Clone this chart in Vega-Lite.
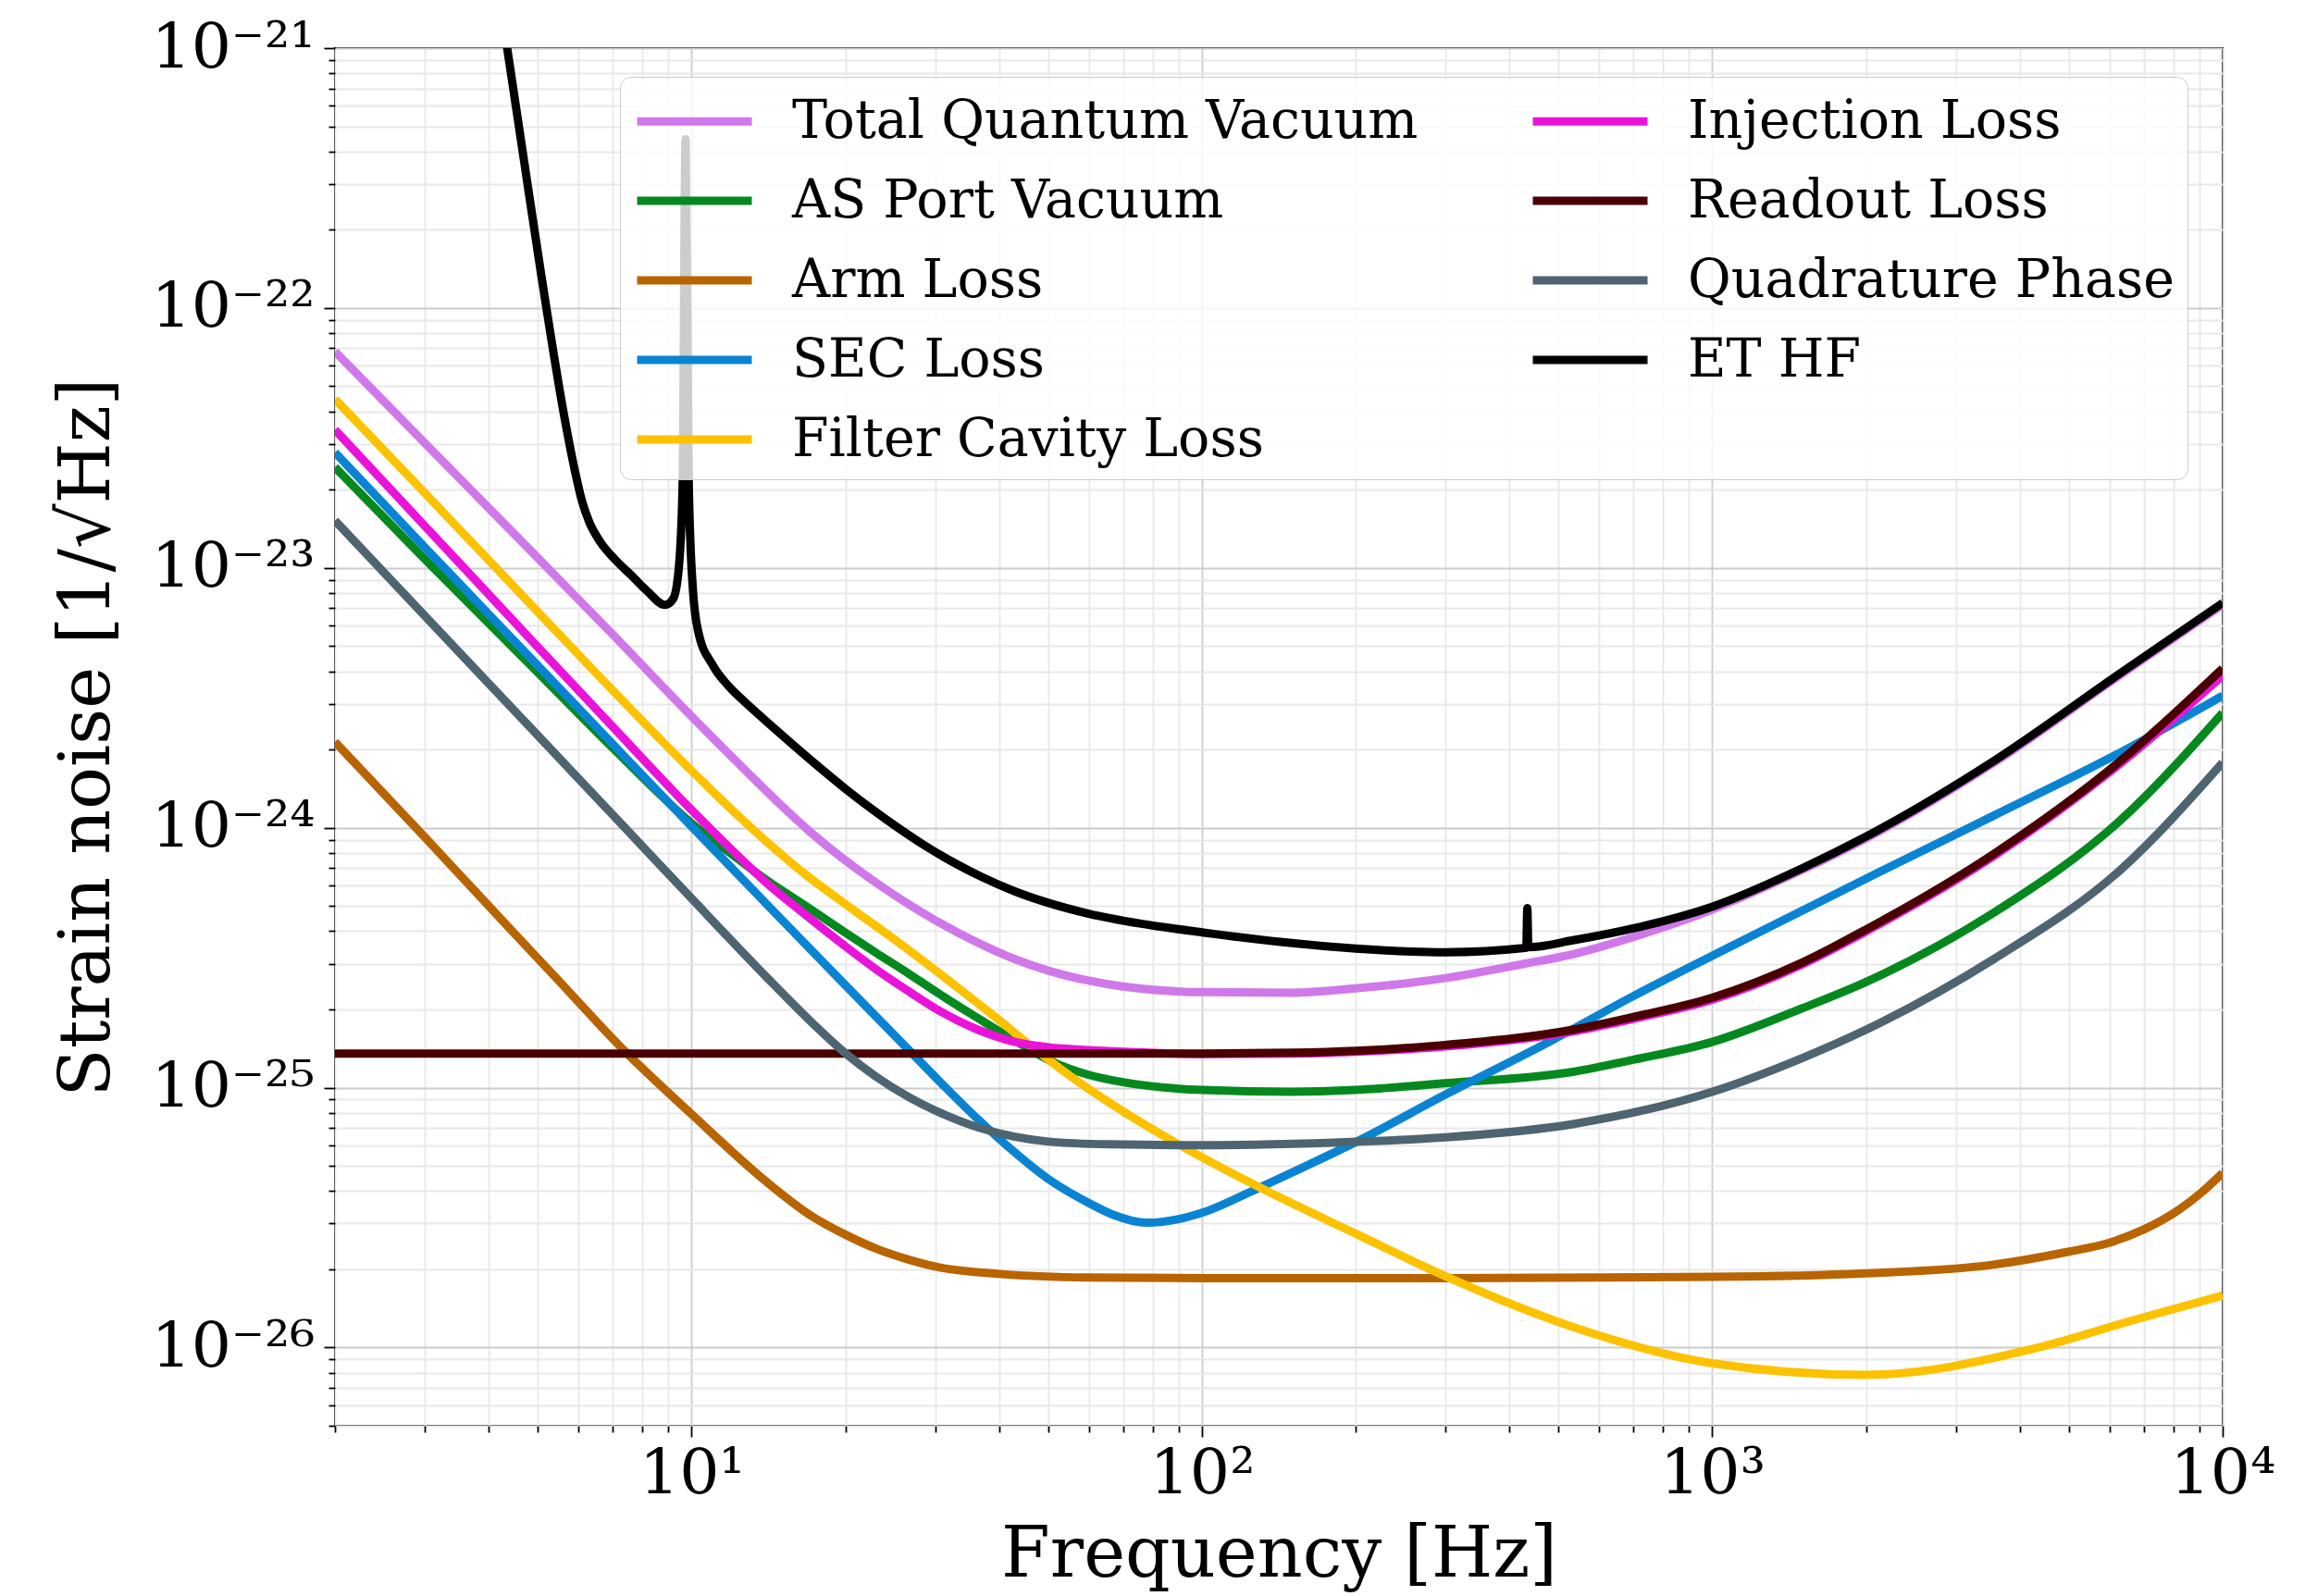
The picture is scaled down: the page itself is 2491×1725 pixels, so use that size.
{
  "$schema": "https://vega.github.io/schema/vega-lite/v6.json",
  "width": 2040,
  "height": 1489,
  "autosize": {"type": "none"},
  "padding": {"left": 362, "top": 52, "right": 89, "bottom": 184},
  "background": "white",
  "config": {
    "view": {"stroke": "black", "strokeWidth": 2},
    "font": "DejaVu Serif"
  },
  "data": {
    "values": [
      {"s": "Total Quantum Vacuum", "f": 2, "h": 6.8e-23},
      {"s": "Total Quantum Vacuum", "f": 3, "h": 3.02e-23},
      {"s": "Total Quantum Vacuum", "f": 5, "h": 1.09e-23},
      {"s": "Total Quantum Vacuum", "f": 7, "h": 5.55e-24},
      {"s": "Total Quantum Vacuum", "f": 10, "h": 2.68e-24},
      {"s": "Total Quantum Vacuum", "f": 13, "h": 1.6e-24},
      {"s": "Total Quantum Vacuum", "f": 15, "h": 1.216e-24},
      {"s": "Total Quantum Vacuum", "f": 17, "h": 9.71e-25},
      {"s": "Total Quantum Vacuum", "f": 20, "h": 7.49e-25},
      {"s": "Total Quantum Vacuum", "f": 23, "h": 6.14e-25},
      {"s": "Total Quantum Vacuum", "f": 26.6, "h": 5.08e-25},
      {"s": "Total Quantum Vacuum", "f": 30, "h": 4.41e-25},
      {"s": "Total Quantum Vacuum", "f": 36.4, "h": 3.61e-25},
      {"s": "Total Quantum Vacuum", "f": 43, "h": 3.12e-25},
      {"s": "Total Quantum Vacuum", "f": 50, "h": 2.82e-25},
      {"s": "Total Quantum Vacuum", "f": 60, "h": 2.58e-25},
      {"s": "Total Quantum Vacuum", "f": 70, "h": 2.45e-25},
      {"s": "Total Quantum Vacuum", "f": 85, "h": 2.36e-25},
      {"s": "Total Quantum Vacuum", "f": 100, "h": 2.33e-25},
      {"s": "Total Quantum Vacuum", "f": 150, "h": 2.32e-25},
      {"s": "Total Quantum Vacuum", "f": 200, "h": 2.41e-25},
      {"s": "Total Quantum Vacuum", "f": 300, "h": 2.64e-25},
      {"s": "Total Quantum Vacuum", "f": 430, "h": 3.0e-25},
      {"s": "Total Quantum Vacuum", "f": 533, "h": 3.26e-25},
      {"s": "Total Quantum Vacuum", "f": 700, "h": 3.8e-25},
      {"s": "Total Quantum Vacuum", "f": 1000, "h": 4.85e-25},
      {"s": "Total Quantum Vacuum", "f": 1500, "h": 6.88e-25},
      {"s": "Total Quantum Vacuum", "f": 2000, "h": 9.1e-25},
      {"s": "Total Quantum Vacuum", "f": 3566, "h": 1.78e-24},
      {"s": "Total Quantum Vacuum", "f": 6310, "h": 3.88e-24},
      {"s": "Total Quantum Vacuum", "f": 10000, "h": 7.22e-24},

      {"s": "AS Port Vacuum", "f": 2, "h": 2.44e-23},
      {"s": "AS Port Vacuum", "f": 3, "h": 1.08e-23},
      {"s": "AS Port Vacuum", "f": 5, "h": 3.95e-24},
      {"s": "AS Port Vacuum", "f": 7, "h": 2.03e-24},
      {"s": "AS Port Vacuum", "f": 10, "h": 1.04e-24},
      {"s": "AS Port Vacuum", "f": 12, "h": 7.9e-25},
      {"s": "AS Port Vacuum", "f": 14, "h": 6.3e-25},
      {"s": "AS Port Vacuum", "f": 17, "h": 4.9e-25},
      {"s": "AS Port Vacuum", "f": 20, "h": 3.95e-25},
      {"s": "AS Port Vacuum", "f": 23, "h": 3.3e-25},
      {"s": "AS Port Vacuum", "f": 26.6, "h": 2.75e-25},
      {"s": "AS Port Vacuum", "f": 30, "h": 2.35e-25},
      {"s": "AS Port Vacuum", "f": 36.4, "h": 1.85e-25},
      {"s": "AS Port Vacuum", "f": 40, "h": 1.65e-25},
      {"s": "AS Port Vacuum", "f": 45, "h": 1.44e-25},
      {"s": "AS Port Vacuum", "f": 50, "h": 1.28e-25},
      {"s": "AS Port Vacuum", "f": 60, "h": 1.12e-25},
      {"s": "AS Port Vacuum", "f": 70, "h": 1.05e-25},
      {"s": "AS Port Vacuum", "f": 100, "h": 9.8e-26},
      {"s": "AS Port Vacuum", "f": 150, "h": 9.65e-26},
      {"s": "AS Port Vacuum", "f": 200, "h": 9.8e-26},
      {"s": "AS Port Vacuum", "f": 300, "h": 1.04e-25},
      {"s": "AS Port Vacuum", "f": 533, "h": 1.15e-25},
      {"s": "AS Port Vacuum", "f": 700, "h": 1.28e-25},
      {"s": "AS Port Vacuum", "f": 1000, "h": 1.5e-25},
      {"s": "AS Port Vacuum", "f": 1500, "h": 2.02e-25},
      {"s": "AS Port Vacuum", "f": 2000, "h": 2.55e-25},
      {"s": "AS Port Vacuum", "f": 3566, "h": 4.72e-25},
      {"s": "AS Port Vacuum", "f": 6310, "h": 1.07e-24},
      {"s": "AS Port Vacuum", "f": 10000, "h": 2.77e-24},

      {"s": "Arm Loss", "f": 2, "h": 2.14e-24},
      {"s": "Arm Loss", "f": 3, "h": 9.2e-25},
      {"s": "Arm Loss", "f": 4.3, "h": 4.3e-25},
      {"s": "Arm Loss", "f": 5.4, "h": 2.67e-25},
      {"s": "Arm Loss", "f": 7.4, "h": 1.38e-25},
      {"s": "Arm Loss", "f": 10, "h": 7.9e-26},
      {"s": "Arm Loss", "f": 14, "h": 4.35e-26},
      {"s": "Arm Loss", "f": 17, "h": 3.25e-26},
      {"s": "Arm Loss", "f": 20, "h": 2.72e-26},
      {"s": "Arm Loss", "f": 23, "h": 2.4e-26},
      {"s": "Arm Loss", "f": 26.6, "h": 2.18e-26},
      {"s": "Arm Loss", "f": 30, "h": 2.05e-26},
      {"s": "Arm Loss", "f": 40, "h": 1.92e-26},
      {"s": "Arm Loss", "f": 60, "h": 1.86e-26},
      {"s": "Arm Loss", "f": 100, "h": 1.85e-26},
      {"s": "Arm Loss", "f": 300, "h": 1.85e-26},
      {"s": "Arm Loss", "f": 1000, "h": 1.87e-26},
      {"s": "Arm Loss", "f": 2000, "h": 1.93e-26},
      {"s": "Arm Loss", "f": 3530, "h": 2.08e-26},
      {"s": "Arm Loss", "f": 5000, "h": 2.34e-26},
      {"s": "Arm Loss", "f": 5990, "h": 2.53e-26},
      {"s": "Arm Loss", "f": 7000, "h": 2.844e-26},
      {"s": "Arm Loss", "f": 8200, "h": 3.385e-26},
      {"s": "Arm Loss", "f": 9100, "h": 3.957e-26},
      {"s": "Arm Loss", "f": 10000, "h": 4.7e-26},

      {"s": "SEC Loss", "f": 2, "h": 2.78e-23},
      {"s": "SEC Loss", "f": 3, "h": 1.2e-23},
      {"s": "SEC Loss", "f": 5, "h": 4.2e-24},
      {"s": "SEC Loss", "f": 7, "h": 2.1e-24},
      {"s": "SEC Loss", "f": 10, "h": 1.01e-24},
      {"s": "SEC Loss", "f": 14, "h": 5.1e-25},
      {"s": "SEC Loss", "f": 20, "h": 2.48e-25},
      {"s": "SEC Loss", "f": 26.6, "h": 1.4e-25},
      {"s": "SEC Loss", "f": 31, "h": 1.03e-25},
      {"s": "SEC Loss", "f": 36.4, "h": 7.55e-26},
      {"s": "SEC Loss", "f": 41.6, "h": 5.95e-26},
      {"s": "SEC Loss", "f": 50, "h": 4.45e-26},
      {"s": "SEC Loss", "f": 60, "h": 3.6e-26},
      {"s": "SEC Loss", "f": 67, "h": 3.24e-26},
      {"s": "SEC Loss", "f": 78, "h": 3.02e-26},
      {"s": "SEC Loss", "f": 90, "h": 3.12e-26},
      {"s": "SEC Loss", "f": 100, "h": 3.3e-26},
      {"s": "SEC Loss", "f": 127, "h": 4.05e-26},
      {"s": "SEC Loss", "f": 160, "h": 5.0e-26},
      {"s": "SEC Loss", "f": 201, "h": 6.2e-26},
      {"s": "SEC Loss", "f": 300, "h": 9.4e-26},
      {"s": "SEC Loss", "f": 485, "h": 1.52e-25},
      {"s": "SEC Loss", "f": 700, "h": 2.25e-25},
      {"s": "SEC Loss", "f": 1000, "h": 3.22e-25},
      {"s": "SEC Loss", "f": 2000, "h": 6.37e-25},
      {"s": "SEC Loss", "f": 3566, "h": 1.115e-24},
      {"s": "SEC Loss", "f": 6310, "h": 1.95e-24},
      {"s": "SEC Loss", "f": 10000, "h": 3.22e-24},

      {"s": "Filter Cavity Loss", "f": 2, "h": 4.46e-23},
      {"s": "Filter Cavity Loss", "f": 3, "h": 1.94e-23},
      {"s": "Filter Cavity Loss", "f": 5, "h": 6.76e-24},
      {"s": "Filter Cavity Loss", "f": 7, "h": 3.38e-24},
      {"s": "Filter Cavity Loss", "f": 10, "h": 1.656e-24},
      {"s": "Filter Cavity Loss", "f": 12, "h": 1.171e-24},
      {"s": "Filter Cavity Loss", "f": 14, "h": 8.87e-25},
      {"s": "Filter Cavity Loss", "f": 17, "h": 6.44e-25},
      {"s": "Filter Cavity Loss", "f": 20, "h": 5.09e-25},
      {"s": "Filter Cavity Loss", "f": 26.6, "h": 3.39e-25},
      {"s": "Filter Cavity Loss", "f": 31, "h": 2.695e-25},
      {"s": "Filter Cavity Loss", "f": 36.4, "h": 2.11e-25},
      {"s": "Filter Cavity Loss", "f": 40, "h": 1.822e-25},
      {"s": "Filter Cavity Loss", "f": 47, "h": 1.408e-25},
      {"s": "Filter Cavity Loss", "f": 53, "h": 1.176e-25},
      {"s": "Filter Cavity Loss", "f": 60, "h": 9.88e-26},
      {"s": "Filter Cavity Loss", "f": 70, "h": 8.11e-26},
      {"s": "Filter Cavity Loss", "f": 88, "h": 6.2e-26},
      {"s": "Filter Cavity Loss", "f": 127, "h": 4.22e-26},
      {"s": "Filter Cavity Loss", "f": 201, "h": 2.73e-26},
      {"s": "Filter Cavity Loss", "f": 300, "h": 1.88e-26},
      {"s": "Filter Cavity Loss", "f": 533, "h": 1.2e-26},
      {"s": "Filter Cavity Loss", "f": 1000, "h": 8.7e-27},
      {"s": "Filter Cavity Loss", "f": 2000, "h": 7.85e-27},
      {"s": "Filter Cavity Loss", "f": 4355, "h": 1.0e-26},
      {"s": "Filter Cavity Loss", "f": 6640, "h": 1.27e-26},
      {"s": "Filter Cavity Loss", "f": 10000, "h": 1.585e-26},

      {"s": "Injection Loss", "f": 2, "h": 3.4e-23},
      {"s": "Injection Loss", "f": 3, "h": 1.45e-23},
      {"s": "Injection Loss", "f": 5, "h": 4.95e-24},
      {"s": "Injection Loss", "f": 7, "h": 2.45e-24},
      {"s": "Injection Loss", "f": 10, "h": 1.17e-24},
      {"s": "Injection Loss", "f": 12, "h": 8.2e-25},
      {"s": "Injection Loss", "f": 14, "h": 6.15e-25},
      {"s": "Injection Loss", "f": 17, "h": 4.5e-25},
      {"s": "Injection Loss", "f": 20, "h": 3.5e-25},
      {"s": "Injection Loss", "f": 23, "h": 2.85e-25},
      {"s": "Injection Loss", "f": 26.6, "h": 2.35e-25},
      {"s": "Injection Loss", "f": 30, "h": 2.02e-25},
      {"s": "Injection Loss", "f": 36.4, "h": 1.67e-25},
      {"s": "Injection Loss", "f": 43, "h": 1.5e-25},
      {"s": "Injection Loss", "f": 50, "h": 1.43e-25},
      {"s": "Injection Loss", "f": 60, "h": 1.395e-25},
      {"s": "Injection Loss", "f": 70, "h": 1.375e-25},
      {"s": "Injection Loss", "f": 100, "h": 1.347e-25},
      {"s": "Injection Loss", "f": 150, "h": 1.352e-25},
      {"s": "Injection Loss", "f": 200, "h": 1.375e-25},
      {"s": "Injection Loss", "f": 300, "h": 1.44e-25},
      {"s": "Injection Loss", "f": 533, "h": 1.645e-25},
      {"s": "Injection Loss", "f": 700, "h": 1.84e-25},
      {"s": "Injection Loss", "f": 1000, "h": 2.18e-25},
      {"s": "Injection Loss", "f": 1500, "h": 2.98e-25},
      {"s": "Injection Loss", "f": 2000, "h": 3.99e-25},
      {"s": "Injection Loss", "f": 3566, "h": 7.8e-25},
      {"s": "Injection Loss", "f": 6310, "h": 1.77e-24},
      {"s": "Injection Loss", "f": 10000, "h": 3.85e-24},

      {"s": "Readout Loss", "f": 2, "h": 1.352e-25},
      {"s": "Readout Loss", "f": 10, "h": 1.352e-25},
      {"s": "Readout Loss", "f": 100, "h": 1.352e-25},
      {"s": "Readout Loss", "f": 150, "h": 1.362e-25},
      {"s": "Readout Loss", "f": 200, "h": 1.385e-25},
      {"s": "Readout Loss", "f": 300, "h": 1.46e-25},
      {"s": "Readout Loss", "f": 533, "h": 1.67e-25},
      {"s": "Readout Loss", "f": 700, "h": 1.87e-25},
      {"s": "Readout Loss", "f": 1000, "h": 2.22e-25},
      {"s": "Readout Loss", "f": 1500, "h": 3.03e-25},
      {"s": "Readout Loss", "f": 2000, "h": 4.06e-25},
      {"s": "Readout Loss", "f": 3566, "h": 7.95e-25},
      {"s": "Readout Loss", "f": 6310, "h": 1.81e-24},
      {"s": "Readout Loss", "f": 10000, "h": 4.1e-24},

      {"s": "Quadrature Phase", "f": 2, "h": 1.52e-23},
      {"s": "Quadrature Phase", "f": 3, "h": 6.54e-24},
      {"s": "Quadrature Phase", "f": 5, "h": 2.26e-24},
      {"s": "Quadrature Phase", "f": 7.4, "h": 1.0e-24},
      {"s": "Quadrature Phase", "f": 10, "h": 5.34e-25},
      {"s": "Quadrature Phase", "f": 14, "h": 2.67e-25},
      {"s": "Quadrature Phase", "f": 17, "h": 1.82e-25},
      {"s": "Quadrature Phase", "f": 20, "h": 1.357e-25},
      {"s": "Quadrature Phase", "f": 23, "h": 1.1e-25},
      {"s": "Quadrature Phase", "f": 26.6, "h": 9.21e-26},
      {"s": "Quadrature Phase", "f": 30, "h": 8.17e-26},
      {"s": "Quadrature Phase", "f": 36.4, "h": 7.03e-26},
      {"s": "Quadrature Phase", "f": 43, "h": 6.47e-26},
      {"s": "Quadrature Phase", "f": 50, "h": 6.2e-26},
      {"s": "Quadrature Phase", "f": 66, "h": 6.05e-26},
      {"s": "Quadrature Phase", "f": 100, "h": 6.0e-26},
      {"s": "Quadrature Phase", "f": 200, "h": 6.19e-26},
      {"s": "Quadrature Phase", "f": 300, "h": 6.44e-26},
      {"s": "Quadrature Phase", "f": 533, "h": 7.24e-26},
      {"s": "Quadrature Phase", "f": 1000, "h": 9.64e-26},
      {"s": "Quadrature Phase", "f": 1500, "h": 1.3e-25},
      {"s": "Quadrature Phase", "f": 2000, "h": 1.67e-25},
      {"s": "Quadrature Phase", "f": 3566, "h": 3.13e-25},
      {"s": "Quadrature Phase", "f": 6310, "h": 6.89e-25},
      {"s": "Quadrature Phase", "f": 10000, "h": 1.78e-24},

      {"s": "ET HF", "f": 4.0, "h": 3.0e-21},
      {"s": "ET HF", "f": 4.35, "h": 1.0e-21},
      {"s": "ET HF", "f": 4.7, "h": 3.62e-22},
      {"s": "ET HF", "f": 5.08, "h": 1.315e-22},
      {"s": "ET HF", "f": 5.66, "h": 3.6e-23},
      {"s": "ET HF", "f": 5.9, "h": 2.38e-23},
      {"s": "ET HF", "f": 6.1, "h": 1.8e-23},
      {"s": "ET HF", "f": 6.3, "h": 1.5e-23},
      {"s": "ET HF", "f": 6.6, "h": 1.27e-23},
      {"s": "ET HF", "f": 7.1, "h": 1.07e-23},
      {"s": "ET HF", "f": 7.6, "h": 9.4e-24},
      {"s": "ET HF", "f": 8.2, "h": 8.1e-24},
      {"s": "ET HF", "f": 8.87, "h": 7.2e-24},
      {"s": "ET HF", "f": 9.2, "h": 7.6e-24},
      {"s": "ET HF", "f": 9.44, "h": 1.01e-23},
      {"s": "ET HF", "f": 9.6, "h": 2.09e-23},
      {"s": "ET HF", "f": 9.73, "h": 4.46e-22},
      {"s": "ET HF", "f": 9.87, "h": 2.09e-23},
      {"s": "ET HF", "f": 10.05, "h": 8.4e-24},
      {"s": "ET HF", "f": 10.3, "h": 5.69e-24},
      {"s": "ET HF", "f": 11.0, "h": 4.22e-24},
      {"s": "ET HF", "f": 11.8, "h": 3.516e-24},
      {"s": "ET HF", "f": 12.8, "h": 3.01e-24},
      {"s": "ET HF", "f": 14, "h": 2.57e-24},
      {"s": "ET HF", "f": 15, "h": 2.28e-24},
      {"s": "ET HF", "f": 17.5, "h": 1.755e-24},
      {"s": "ET HF", "f": 20, "h": 1.414e-24},
      {"s": "ET HF", "f": 22.7, "h": 1.169e-24},
      {"s": "ET HF", "f": 25.5, "h": 9.93e-25},
      {"s": "ET HF", "f": 28.6, "h": 8.55e-25},
      {"s": "ET HF", "f": 33, "h": 7.26e-25},
      {"s": "ET HF", "f": 37, "h": 6.47e-25},
      {"s": "ET HF", "f": 43, "h": 5.69e-25},
      {"s": "ET HF", "f": 50, "h": 5.14e-25},
      {"s": "ET HF", "f": 60, "h": 4.67e-25},
      {"s": "ET HF", "f": 75, "h": 4.29e-25},
      {"s": "ET HF", "f": 100, "h": 3.96e-25},
      {"s": "ET HF", "f": 150, "h": 3.6e-25},
      {"s": "ET HF", "f": 200, "h": 3.43e-25},
      {"s": "ET HF", "f": 300, "h": 3.32e-25},
      {"s": "ET HF", "f": 430, "h": 3.45e-25},
      {"s": "ET HF", "f": 432, "h": 3.46e-25},
      {"s": "ET HF", "f": 434, "h": 4.91e-25},
      {"s": "ET HF", "f": 436, "h": 3.47e-25},
      {"s": "ET HF", "f": 533, "h": 3.69e-25},
      {"s": "ET HF", "f": 700, "h": 4.1e-25},
      {"s": "ET HF", "f": 1000, "h": 4.97e-25},
      {"s": "ET HF", "f": 1500, "h": 6.98e-25},
      {"s": "ET HF", "f": 2000, "h": 9.24e-25},
      {"s": "ET HF", "f": 3566, "h": 1.81e-24},
      {"s": "ET HF", "f": 6310, "h": 3.94e-24},
      {"s": "ET HF", "f": 10000, "h": 7.33e-24}
    ]
  },
  "mark": {"type": "line", "clip": true, "strokeWidth": 9, "interpolate": "monotone", "strokeJoin": "round", "strokeCap": "butt"},
  "encoding": {
    "x": {
      "field": "f",
      "type": "quantitative",
      "scale": {"type": "log", "domain": [2, 10000], "nice": false},
      "axis": {
        "title": "Frequency [Hz]",
        "titleFont": "DejaVu Serif",
        "titleFontSize": 76,
        "titleFontWeight": "normal",
        "titleColor": "black",
        "titlePadding": 16,
        "values": [2,3,4,5,6,7,8,9,10,20,30,40,50,60,70,80,90,100,200,300,400,500,600,700,800,900,1000,2000,3000,4000,5000,6000,7000,8000,9000,10000],
        "labelExpr": "datum.value==10?'10¹':datum.value==100?'10²':datum.value==1000?'10³':datum.value==10000?'10⁴':''",
        "labelFont": "DejaVu Serif",
        "labelFontSize": 68,
        "labelColor": "black",
        "labelPadding": 6,
        "labelOverlap": false,
        "labelFlush": false,
        "labelBound": false,
        "domain": false,
        "tickColor": "black",
        "tickWidth": 1.8,
        "tickSize": {"condition": {"test": "abs(log(datum.value)/LN10-round(log(datum.value)/LN10))<0.001", "value": 12}, "value": 7},
        "grid": true,
        "gridWidth": 1.8,
        "gridColor": {"condition": {"test": "abs(log(datum.value)/LN10-round(log(datum.value)/LN10))<0.001", "value": "#cccccc"}, "value": "#e8e8e8"}
      }
    },
    "y": {
      "field": "h",
      "type": "quantitative",
      "scale": {"type": "log", "domain": [5e-27, 1e-21], "nice": false},
      "axis": {
        "title": "Strain noise [1/√Hz]",
        "titleFont": "DejaVu Serif",
        "titleFontSize": 76,
        "titleFontWeight": "normal",
        "titleColor": "black",
        "titlePadding": 30,
        "values": [5e-27,6e-27,7e-27,8e-27,9e-27,1e-26,2e-26,3e-26,4e-26,5e-26,6e-26,7e-26,8e-26,9e-26,1e-25,2e-25,3e-25,4e-25,5e-25,6e-25,7e-25,8e-25,9e-25,1e-24,2e-24,3e-24,4e-24,5e-24,6e-24,7e-24,8e-24,9e-24,1e-23,2e-23,3e-23,4e-23,5e-23,6e-23,7e-23,8e-23,9e-23,1e-22,2e-22,3e-22,4e-22,5e-22,6e-22,7e-22,8e-22,9e-22,1e-21],
        "labelExpr": "abs(datum.value/1e-21-1)<1e-6?'10⁻²¹':abs(datum.value/1e-22-1)<1e-6?'10⁻²²':abs(datum.value/1e-23-1)<1e-6?'10⁻²³':abs(datum.value/1e-24-1)<1e-6?'10⁻²⁴':abs(datum.value/1e-25-1)<1e-6?'10⁻²⁵':abs(datum.value/1e-26-1)<1e-6?'10⁻²⁶':''",
        "labelFont": "DejaVu Serif",
        "labelFontSize": 68,
        "labelColor": "black",
        "labelPadding": 10,
        "labelOverlap": false,
        "labelFlush": false,
        "labelBound": false,
        "domain": false,
        "tickColor": "black",
        "tickWidth": 1.8,
        "tickSize": {"condition": {"test": "abs(log(datum.value)/LN10-round(log(datum.value)/LN10))<0.001", "value": 12}, "value": 7},
        "grid": true,
        "gridWidth": 1.8,
        "gridColor": {"condition": {"test": "abs(log(datum.value)/LN10-round(log(datum.value)/LN10))<0.001", "value": "#cccccc"}, "value": "#e8e8e8"}
      }
    },
    "color": {
      "field": "s",
      "type": "nominal",
      "scale": {
        "domain": ["Total Quantum Vacuum", "AS Port Vacuum", "Arm Loss", "SEC Loss", "Filter Cavity Loss", "Injection Loss", "Readout Loss", "Quadrature Phase", "ET HF"],
        "range": ["#d078ea", "#05891f", "#b86400", "#0a84d2", "#fcc200", "#ea13d9", "#4a0000", "#4e6470", "#000000"]
      },
      "legend": {
        "orient": "none",
        "legendX": 308,
        "legendY": 31,
        "columns": 2,
        "title": null,
        "symbolType": "stroke",
        "symbolSize": 15376,
        "symbolStrokeWidth": 9,
        "labelFont": "DejaVu Serif",
        "labelFontSize": 57,
        "labelColor": "black",
        "labelLimit": 2000,
        "labelOffset": 39,
        "rowPadding": 23,
        "columnPadding": 105,
        "padding": 14,
        "fillColor": "rgba(255,255,255,0.8)",
        "strokeColor": "#cccccc",
        "cornerRadius": 12,
        "encode": {
          "labels": {"update": {"dy": {"value": -32}}},
          "symbols": {"update": {"y": {"value": 34}}}
        }
      }
    }
  }
}
